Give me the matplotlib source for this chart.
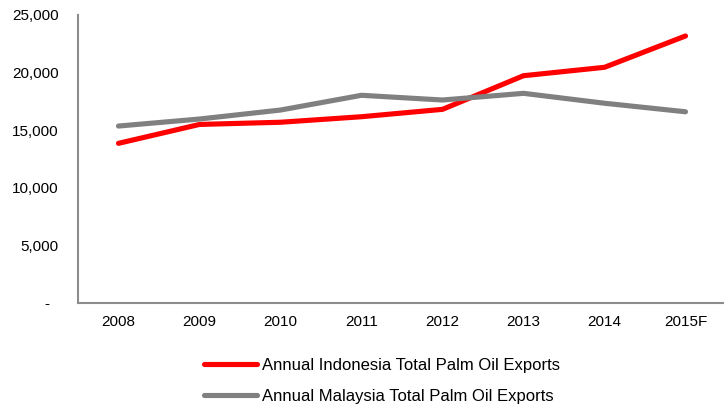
import matplotlib
matplotlib.use("Agg")
import matplotlib.pyplot as plt
from matplotlib.ticker import FuncFormatter, MultipleLocator

years = ["2008", "2009", "2010", "2011", "2012", "2013", "2014", "2015F"]
indonesia = [13860, 15500, 15690, 16170, 16810, 19730, 20460, 23180]
malaysia = [15360, 15970, 16750, 18030, 17620, 18200, 17340, 16600]
labels = ["Annual Indonesia Total Palm Oil Exports", "Annual Malaysia Total Palm Oil Exports"]

plt.rcParams["font.family"] = ["Liberation Sans", "DejaVu Sans"]
W, H = 724, 408
fig = plt.figure(figsize=(W / 100, H / 100), dpi=100)
ax = fig.add_axes([78 / W, 1 - 303 / H, (726 - 78) / W, (303 - 15) / H])

x = list(range(len(years)))
ax.plot(x, indonesia, color="#ff0000", lw=3.7, solid_capstyle="round", label=labels[0])
ax.plot(x, malaysia, color="#808080", lw=3.7, solid_capstyle="round", label=labels[1])

ax.set_xlim(-0.5, len(years) - 0.5)
ax.set_ylim(0, 25000)
ax.yaxis.set_major_locator(MultipleLocator(5000))
ax.yaxis.set_major_formatter(FuncFormatter(lambda v, p: "-  " if v == 0 else f"{v:,.0f}"))
ax.set_xticks(x)
ax.set_xticklabels(years)
ax.tick_params(axis="both", length=0, labelsize=11, colors="black")
ax.tick_params(axis="y", pad=14)
ax.tick_params(axis="x", pad=9)
for s in ["top", "right"]:
    ax.spines[s].set_visible(False)
for s in ["left", "bottom"]:
    ax.spines[s].set_color("#8c8c8c")
    ax.spines[s].set_linewidth(1.5)

fig.legend(loc="center left", bbox_to_anchor=(204 / W, 1 - 381 / H), frameon=False,
           fontsize=12, handlelength=3.2, handletextpad=0.25, labelspacing=0.95,
           borderpad=0, borderaxespad=0)

fig.savefig("out.png", dpi=100)
